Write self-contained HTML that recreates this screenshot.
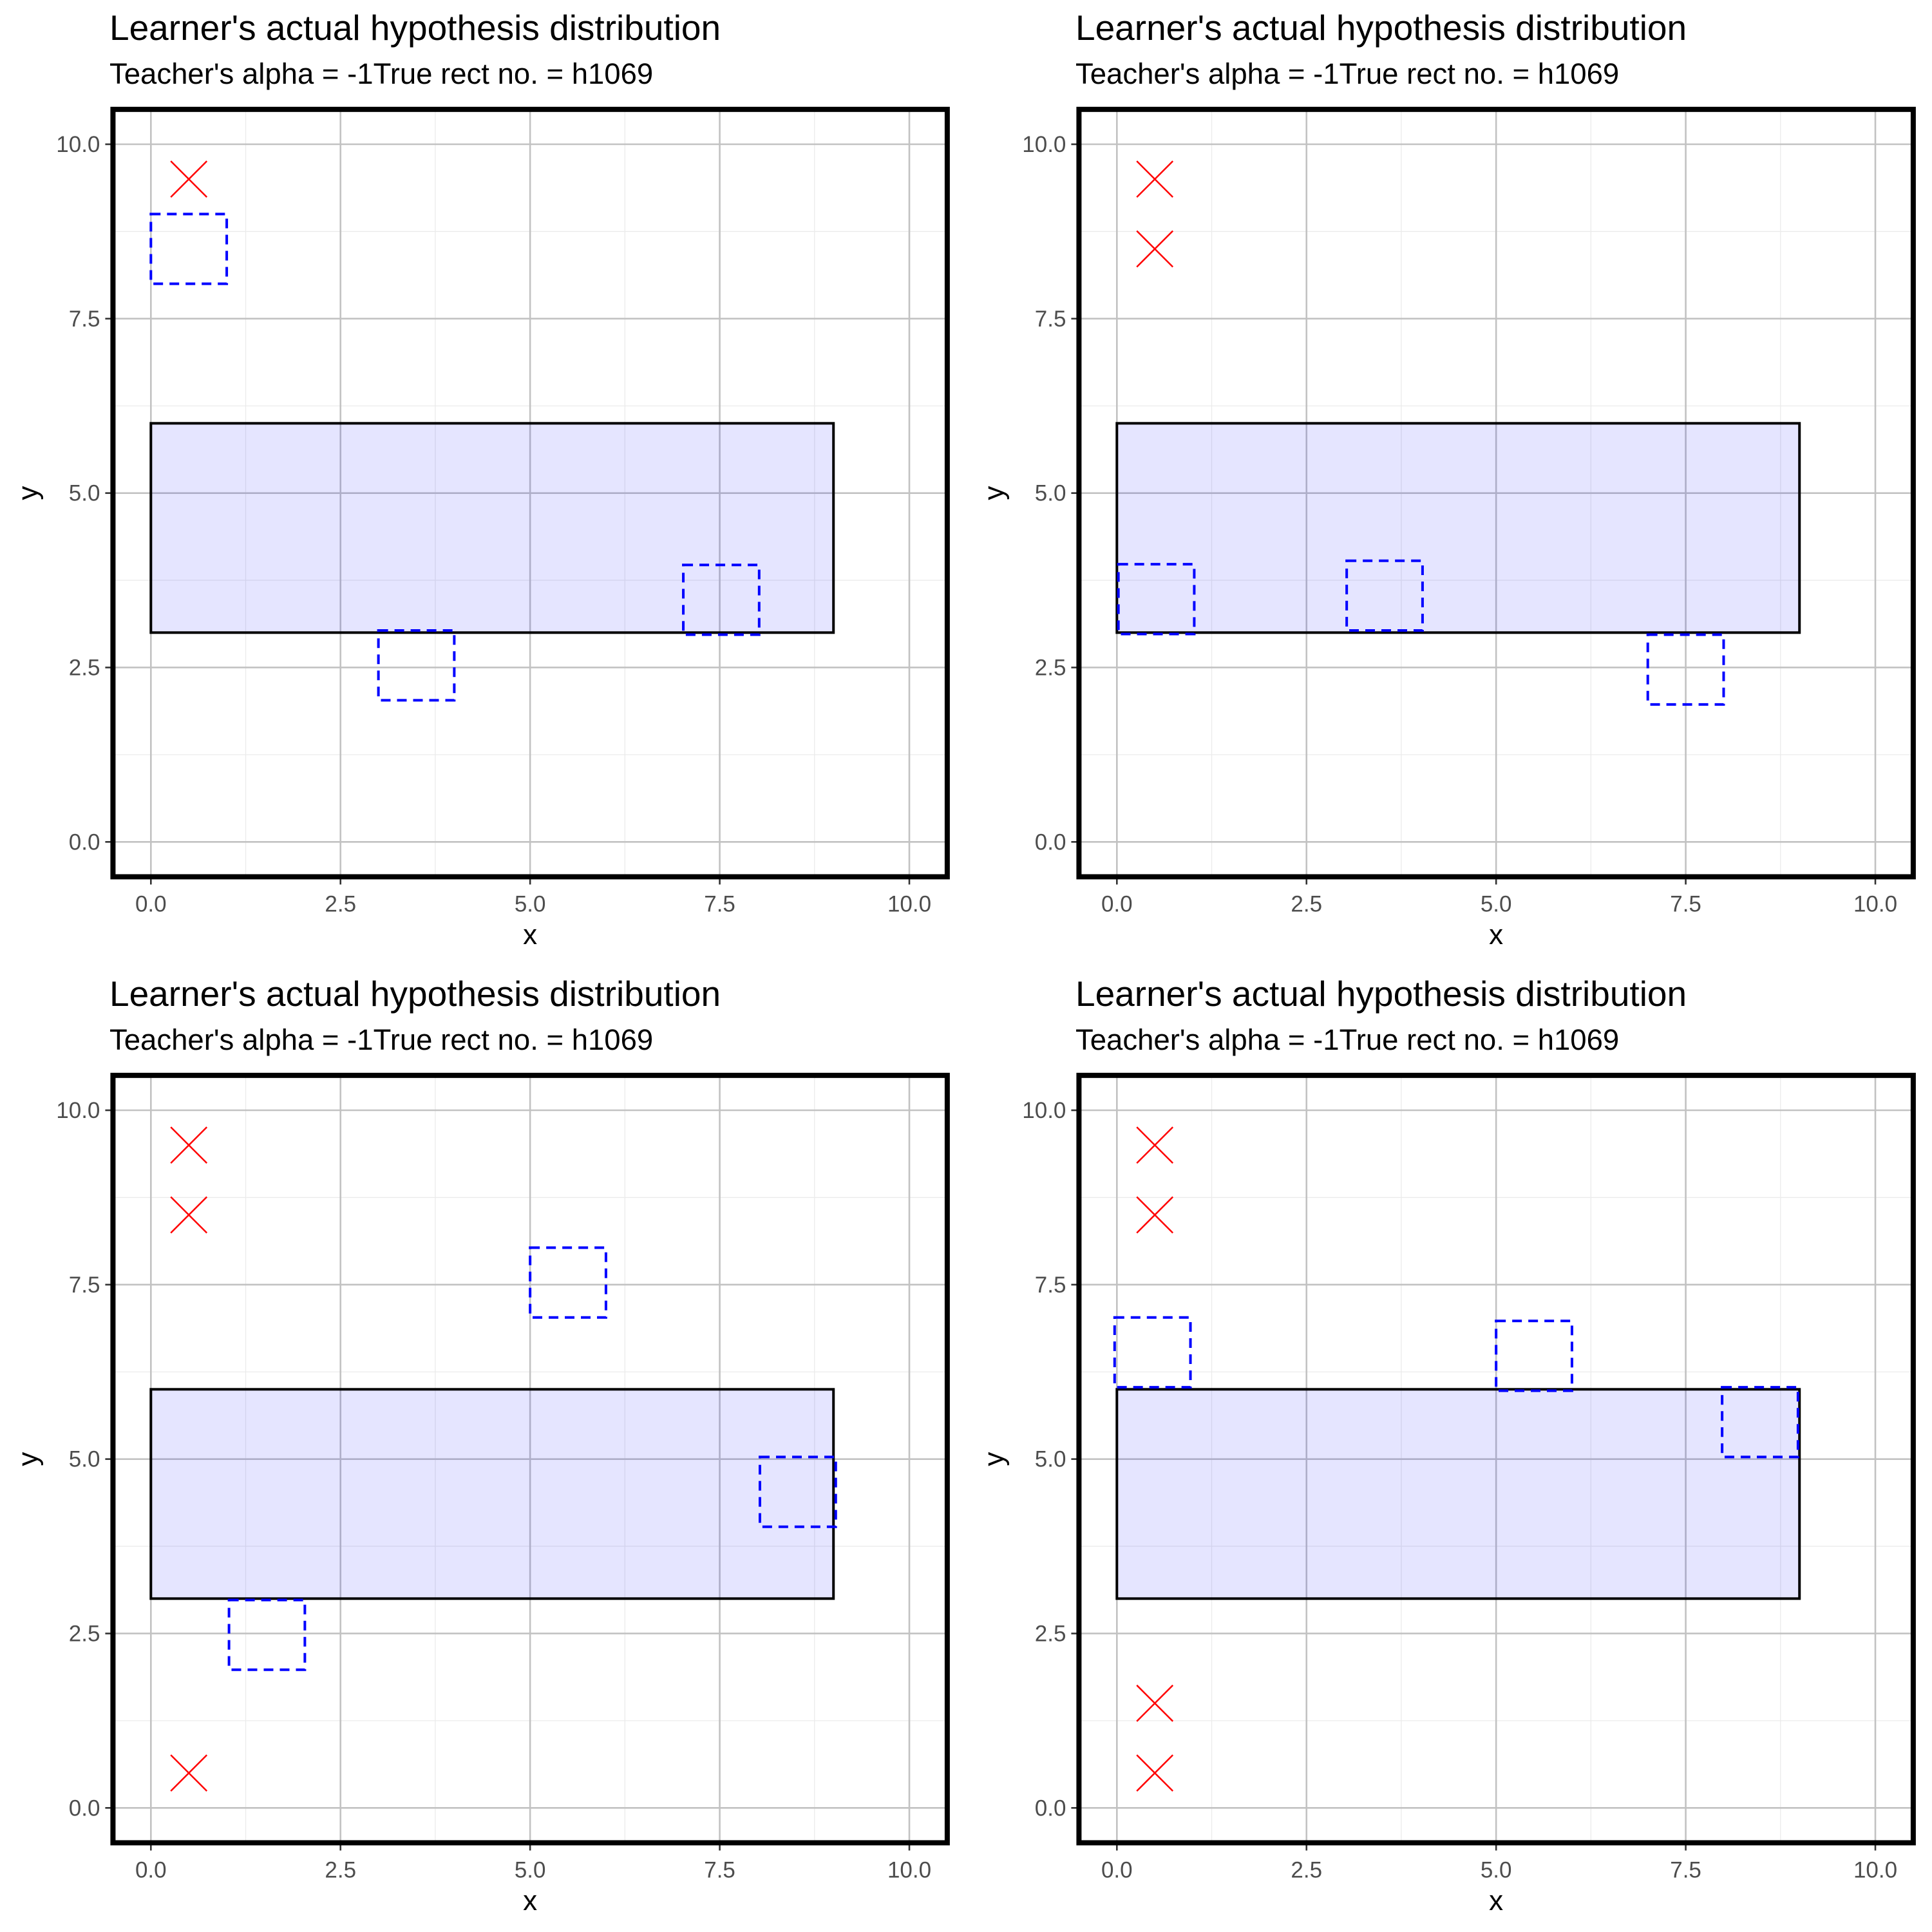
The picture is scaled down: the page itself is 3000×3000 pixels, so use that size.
<!DOCTYPE html>
<html><head><meta charset="utf-8"><style>
html,body{margin:0;padding:0;background:#fff;}
svg{display:block;font-family:"Liberation Sans",sans-serif;}
</style></head><body>
<svg id="chart" width="3000" height="3000" viewBox="0 0 3000 3000" xmlns="http://www.w3.org/2000/svg"></svg>
<script>
const panelOffsets = [[0,0],[1500,0],[0,1500],[1500,1500]];
const trueRect = [0, 9, 3, 6];
const hypRects = [
  [[0,1,8,9],[3,4,2.03,3.03],[7.02,8.02,2.97,3.97]],
  [[0.02,1.02,2.98,3.98],[3.03,4.03,3.03,4.03],[7,8,1.97,2.97]],
  [[5,6,7.03,8.03],[8.03,9.03,4.03,5.03],[1.03,2.03,1.98,2.98]],
  [[-0.03,0.97,6.03,7.03],[5,6,5.98,6.98],[7.98,8.98,5.03,6.03]]
];
const negPointsX = [[0.5],[0.5,0.5],[0.5,0.5,0.5],[0.5,0.5,0.5,0.5]];
const negPointsY = [[9.5],[9.5,8.5],[9.5,8.5,0.5],[9.5,8.5,1.5,0.5]];
const tickValues = [0,2.5,5,7.5,10];
const tickLabels = ["0.0","2.5","5.0","7.5","10.0"];
const minorValues = [1.25,3.75,6.25,8.75];

const NS="http://www.w3.org/2000/svg";
const svg=document.getElementById('chart');
function mk(tag,attrs,parent){const e=document.createElementNS(NS,tag);for(const k in attrs)e.setAttribute(k,attrs[k]);parent.appendChild(e);return e;}

panelOffsets.forEach((off,p)=>{
  const ox=off[0], oy=off[1];
  const sx=v=>ox+234.3+v*117.77;
  const sy=v=>oy+1307.3-v*108.33;
  const g=mk('g',{},svg);
  
  
  const t=mk('text',{x:ox+170,y:oy+62,'font-size':55,fill:'#000'},g);
  t.textContent="Learner's actual hypothesis distribution";
  
  
  const st=mk('text',{x:ox+170,y:oy+130,'font-size':45.5,fill:'#000'},g);
  st.textContent="Teacher's alpha = -1True rect no. = h1069";
  
  
  const L=sx(-0.5),R=sx(10.5),T=sy(10.5),B=sy(-0.5);
  minorValues.forEach(v=>{
    const a=mk('line',{x1:sx(v),x2:sx(v),y1:T,y2:B,stroke:'#ebebeb','stroke-width':1.3},g);
    
    
    const b=mk('line',{x1:L,x2:R,y1:sy(v),y2:sy(v),stroke:'#ebebeb','stroke-width':1.3},g);
    
    
  });
  tickValues.forEach((v,i)=>{
    const a=mk('line',{x1:sx(v),x2:sx(v),y1:T,y2:B,stroke:'#c2c2c2','stroke-width':2.6},g);
    
    
    const b=mk('line',{x1:L,x2:R,y1:sy(v),y2:sy(v),stroke:'#c2c2c2','stroke-width':2.6},g);
    
    
    const tx=mk('line',{x1:sx(v),x2:sx(v),y1:B,y2:B+12,stroke:'#333','stroke-width':2.6},g);
    
    
    const ty=mk('line',{x1:L-12,x2:L,y1:sy(v),y2:sy(v),stroke:'#333','stroke-width':2.6},g);
    
    
    const lx=mk('text',{x:sx(v),y:B+54,'font-size':35,fill:'#4d4d4d','text-anchor':'middle'},g);
    lx.textContent=tickLabels[i];
    
    
    const ly=mk('text',{x:L-20,y:sy(v)+12,'font-size':35,fill:'#4d4d4d','text-anchor':'end'},g);
    ly.textContent=tickLabels[i];
    
    
  });
  const tr=mk('rect',{x:sx(trueRect[0]),y:sy(trueRect[3]),width:sx(trueRect[1])-sx(trueRect[0]),height:sy(trueRect[2])-sy(trueRect[3]),fill:'rgba(0,0,255,0.1)',stroke:'#000','stroke-width':4},g);
  
  
  hypRects[p].forEach(r=>{
    const h=mk('rect',{x:sx(r[0]),y:sy(r[3]),width:sx(r[1])-sx(r[0]),height:sy(r[2])-sy(r[3]),fill:'none',stroke:'#0000ff','stroke-width':4,'stroke-dasharray':'15,10'},g);
    
    
  });
  negPointsX[p].forEach((px,i)=>{
    const cx=sx(px),cy=sy(negPointsY[p][i]),d=28;
    const m=mk('path',{d:`M${cx-d},${cy-d}L${cx+d},${cy+d}M${cx-d},${cy+d}L${cx+d},${cy-d}`,stroke:'#ff0000','stroke-width':2.5,fill:'none'},g);
    
    
  });
  const bd=mk('rect',{x:L,y:T,width:R-L,height:B-T,fill:'none',stroke:'#000','stroke-width':8},g);
  
  
  const xt=mk('text',{x:(sx(0)+sx(10))/2,y:oy+1466,'font-size':44,fill:'#000','text-anchor':'middle'},g);
  xt.textContent='x';
  
  
  const yc=sy(5);
  const yt=mk('text',{x:ox+58,y:yc,'font-size':44,fill:'#000','text-anchor':'middle',transform:`rotate(-90 ${ox+58} ${yc})`},g);
  yt.textContent='y';
  
  
});
</script>
</body></html>
